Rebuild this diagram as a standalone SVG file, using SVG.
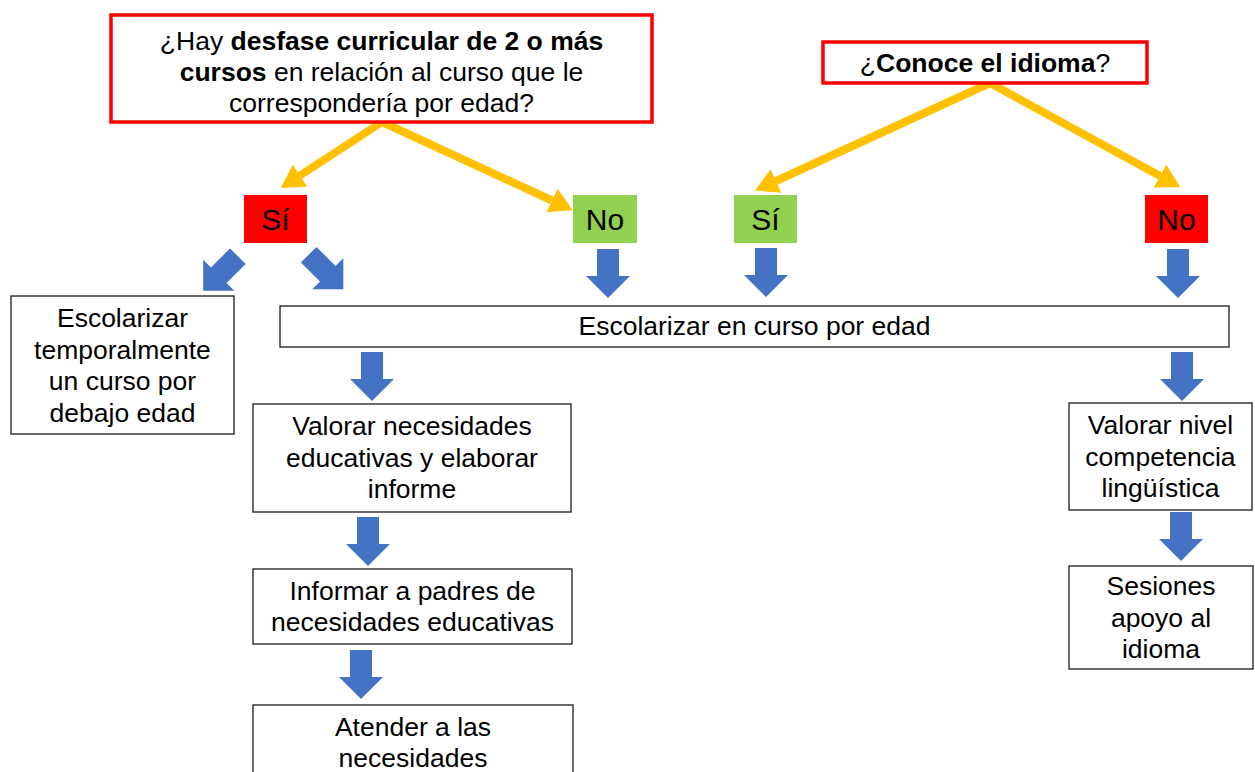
<svg xmlns="http://www.w3.org/2000/svg" width="1255" height="772" viewBox="0 0 1255 772">
<style>
text{font-family:"Liberation Sans",Arial,sans-serif;font-size:26.5px;fill:#000;text-anchor:middle}
.b{font-weight:bold}
.q{fill:#fff;stroke:#ff0000;stroke-width:3.5}
.box{fill:#fff;stroke:#1a1a1a;stroke-width:1.3}
.red{fill:#ff0000}
.green{fill:#92d050}
.lbl{font-size:30px}
.yl{fill:none;stroke:#ffc000;stroke-width:8;marker-end:url(#ah)}
.ba{fill:#4472c4}
</style>
<defs>
<marker id="ah" markerUnits="userSpaceOnUse" viewBox="0 -13 23 26" refX="0" refY="0" markerWidth="23" markerHeight="26" orient="auto">
<path d="M0,-13 L23,0 L0,13 Z" fill="#ffc000"/>
</marker>
<path id="da" d="M-11,0 H11 V27 H22 L0,49 L-22,27 H-11 Z"/>
</defs>
<g id="connectors">
<path class="yl" d="M382,122 L300,175.5"/>
<path class="yl" d="M382,122 L552,200.5"/>
<path class="yl" d="M990,83 L776,181"/>
<path class="yl" d="M990,83 L1160,176"/>
<use href="#da" class="ba" transform="translate(220.5,273.5) rotate(45) translate(0,-24.5)"/>
<use href="#da" class="ba" transform="translate(326,272) rotate(-45) translate(0,-24.5)"/>
<use href="#da" class="ba" x="608" y="249"/>
<use href="#da" class="ba" x="766" y="248"/>
<use href="#da" class="ba" x="1178" y="249"/>
<use href="#da" class="ba" x="372" y="352"/>
<use href="#da" class="ba" x="368" y="517"/>
<use href="#da" class="ba" x="361" y="650"/>
<use href="#da" class="ba" x="1182" y="352"/>
<use href="#da" class="ba" x="1181" y="512"/>
</g>
<g id="q1">
<rect class="q" x="111" y="15" width="541" height="107"/>
<text x="381.5" y="50">¿Hay <tspan class="b">desfase curricular de 2 o más</tspan></text>
<text x="381.5" y="81"><tspan class="b">cursos</tspan> en relación al curso que le</text>
<text x="381.5" y="112">correspondería por edad?</text>
</g>
<g id="q2">
<rect class="q" x="823" y="42" width="324" height="41"/>
<text x="985" y="72">¿<tspan class="b">Conoce el idioma</tspan>?</text>
</g>
<g id="si1">
<rect class="red" x="244" y="195" width="63" height="48"/>
<text class="lbl" x="275.5" y="230">Sí</text>
</g>
<g id="no1">
<rect class="green" x="573" y="195" width="64" height="48"/>
<text class="lbl" x="605" y="230">No</text>
</g>
<g id="si2">
<rect class="green" x="734" y="195" width="63" height="48"/>
<text class="lbl" x="765.5" y="230">Sí</text>
</g>
<g id="no2">
<rect class="red" x="1145" y="195" width="63" height="48"/>
<text class="lbl" x="1176.5" y="230">No</text>
</g>
<g id="temporal">
<rect class="box" x="11" y="296" width="223" height="138"/>
<text x="122.5" y="327">Escolarizar</text>
<text x="122.5" y="358.5">temporalmente</text>
<text x="122.5" y="390">un curso por</text>
<text x="122.5" y="421.5">debajo edad</text>
</g>
<g id="curso">
<rect class="box" x="280" y="306" width="949" height="41"/>
<text x="754.5" y="335">Escolarizar en curso por edad</text>
</g>
<g id="valorar">
<rect class="box" x="253" y="404" width="318" height="108"/>
<text x="412" y="435">Valorar necesidades</text>
<text x="412" y="467">educativas y elaborar</text>
<text x="412" y="498">informe</text>
</g>
<g id="informar">
<rect class="box" x="253" y="569" width="319" height="75"/>
<text x="412.5" y="600">Informar a padres de</text>
<text x="412.5" y="631">necesidades educativas</text>
</g>
<g id="atender">
<rect class="box" x="253" y="705" width="320" height="90"/>
<text x="413" y="736">Atender a las</text>
<text x="413" y="767">necesidades</text>
</g>
<g id="nivel">
<rect class="box" x="1069" y="403" width="183" height="107"/>
<text x="1160.5" y="434">Valorar nivel</text>
<text x="1160.5" y="466">competencia</text>
<text x="1160.5" y="497">lingüística</text>
</g>
<g id="sesiones">
<rect class="box" x="1069" y="566" width="184" height="103"/>
<text x="1161" y="595">Sesiones</text>
<text x="1161" y="626.5">apoyo al</text>
<text x="1161" y="658">idioma</text>
</g>
</svg>
